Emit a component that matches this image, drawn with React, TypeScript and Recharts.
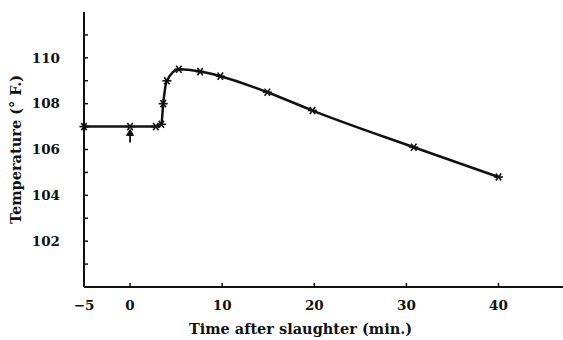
import { LineChart, Line, XAxis, YAxis, ReferenceDot } from "recharts";

// minutes after slaughter / body temperature (°F)
const minutes = [-5, 0, 2.8, 3.4, 3.6, 4.0, 5.3, 7.6, 9.8, 14.9, 19.8, 30.8, 40];
const temps = [107, 107, 107, 107.1, 108, 109, 109.5, 109.4, 109.2, 108.5, 107.7, 106.1, 104.8];
const xTicks = [-5, 0, 10, 20, 30, 40];
const yTicks = [101, 102, 103, 104, 105, 106, 107, 108, 109, 110, 111];

const data = minutes.map((t, i) => ({ t, temp: temps[i] }));

const FONT = "'DejaVu Serif', serif";

const Asterisk = (props: any) => {
    const { cx, cy } = props;
    if (cx == null || cy == null) return null;
    const r = 4.5;
    return (
        <g stroke="#111" strokeWidth={1.6}>
            <line x1={cx - r} y1={cy} x2={cx + r} y2={cy} />
            <line x1={cx - r * 0.6} y1={cy - r * 0.8} x2={cx + r * 0.6} y2={cy + r * 0.8} />
            <line x1={cx - r * 0.6} y1={cy + r * 0.8} x2={cx + r * 0.6} y2={cy - r * 0.8} />
        </g>
    );
};

const UpArrow = (props: any) => {
    const { cx, cy } = props;
    if (cx == null || cy == null) return null;
    return (
        <g stroke="#111" fill="#111">
            <line x1={cx} y1={cy - 3} x2={cx} y2={cy + 9} strokeWidth={1.8} />
            <path d={`M${cx - 3.5},${cy + 2} L${cx},${cy - 4} L${cx + 3.5},${cy + 2} Z`} strokeWidth={1} />
        </g>
    );
};

export default function App() {
    return (
        <div style={{ position: "absolute", left: 0, top: 0, background: "#fff" }}>
            <LineChart
                width={563}
                height={340}
                data={data}
                margin={{ top: 12, right: 0, left: 0, bottom: 0 }}
            >
                <XAxis
                    dataKey="t"
                    type="number"
                    domain={[-5, 47]}
                    ticks={xTicks}
                    tickFormatter={(v: number) => (v < 0 ? `\u2212${Math.abs(v)}` : `${v}`)}
                    height={53}
                    axisLine={{ stroke: "#111", strokeWidth: 2 }}
                    tickLine={{ stroke: "#111", strokeWidth: 1.5 }}
                    tickSize={-4}
                    tickMargin={17}
                    tick={{ fill: "#111", fontFamily: FONT, fontWeight: "bold", fontSize: 13.5 }}
                    label={{
                        value: "Time after slaughter (min.)",
                        position: "insideBottom",
                        offset: 6,
                        dx: -23,
                        fill: "#111",
                        fontFamily: FONT,
                        fontWeight: "bold",
                        fontSize: 14.5,
                    }}
                />
                <YAxis
                    type="number"
                    domain={[100, 112]}
                    ticks={yTicks}
                    interval={0}
                    tickFormatter={(v: number) => (v % 2 === 0 ? `${v}` : "")}
                    width={84}
                    axisLine={{ stroke: "#111", strokeWidth: 2 }}
                    tickLine={{ stroke: "#111", strokeWidth: 1.5 }}
                    tickSize={-4}
                    tickMargin={28}
                    tick={{ fill: "#111", fontFamily: FONT, fontWeight: "bold", fontSize: 13.5 }}
                    label={{
                        value: "Temperature (\u00b0 F.)",
                        angle: -90,
                        position: "insideLeft",
                        offset: 16,
                        style: { textAnchor: "middle" },
                        fill: "#111",
                        fontFamily: FONT,
                        fontWeight: "bold",
                        fontSize: 14.5,
                    }}
                />
                <Line
                    type="monotone"
                    dataKey="temp"
                    stroke="#111"
                    strokeWidth={2.5}
                    dot={<Asterisk />}
                    isAnimationActive={false}
                />
                <ReferenceDot x={0} y={106.7} shape={<UpArrow />} />
            </LineChart>
        </div>
    );
}
